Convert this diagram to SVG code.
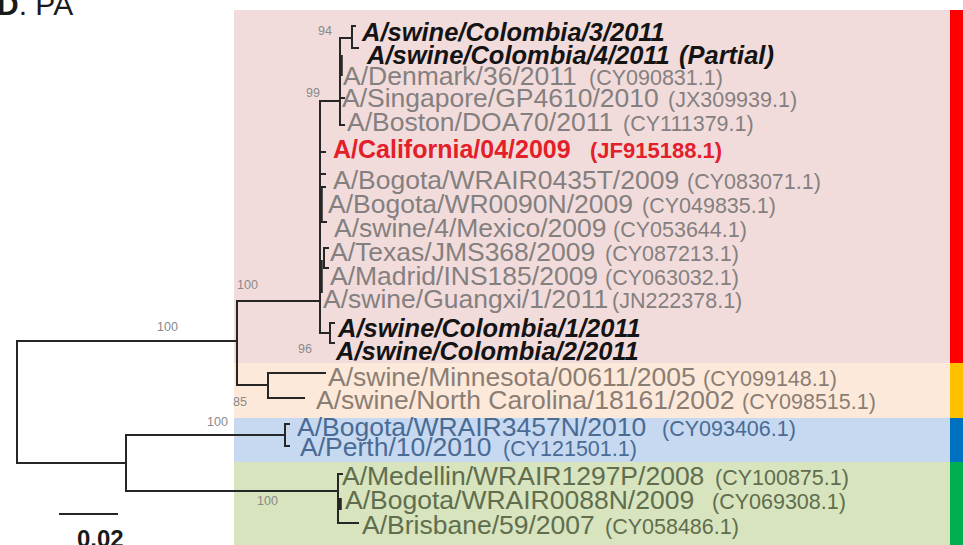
<svg xmlns="http://www.w3.org/2000/svg" width="963" height="545" viewBox="0 0 963 545">
  <style>
    text { font-family: "Liberation Sans", Arial, sans-serif; }
    .nm { font-size: 26.5px; }
    .acc { font-size: 21.5px; }
    .bi { font-size: 25.5px; font-weight: bold; font-style: italic; fill: #141414; }
    .ref { font-size: 25px; font-weight: bold; fill: #e3202a; }
    .refacc { font-size: 22px; }
    .bs { font-size: 12.5px; fill: #8a8a8a; }
    .pk { fill: #848080; }
    .pc { fill: #8a7d74; }
    .bl { fill: #4a6b94; }
    .gr { fill: #606d4f; }
    .br { fill: none; stroke: #262626; stroke-width: 2; stroke-linecap: square; }
    .thick { fill: none; stroke: #262626; stroke-width: 3.5; }
  </style>

  <!-- clade shading -->
  <g id="clades">
    <rect x="234" y="10" width="716" height="353" fill="#f2dcdb"/>
    <rect x="234" y="363" width="716" height="55" fill="#fde9d9"/>
    <rect x="234" y="418" width="716" height="44" fill="#c6d9f1"/>
    <rect x="234" y="462" width="716" height="83" fill="#d7e4bd"/>
    <rect x="950" y="10" width="13" height="353" fill="#ff0000"/>
    <rect x="950" y="363" width="13" height="55" fill="#ffc000"/>
    <rect x="950" y="418" width="13" height="44" fill="#0070c0"/>
    <rect x="950" y="462" width="13" height="83" fill="#00b050"/>
  </g>

  <!-- panel title -->
  <text x="-3" y="15" font-size="30" fill="#1a1a1a"><tspan font-weight="bold">D</tspan>. PA</text>

  <!-- tree branches -->
  <g id="connectors">
    <path class="br" d="M17 341 V463 M17 341 H237 M17 463 H126
      M237 301 V385 M237 301 H320 M237 385 H268
      M268 373 V398 M268 373 H325 M268 398 H304
      M126 435 V491 M126 435 H285 M126 491 H338
      M285 424 V446 M285 424 H289 M285 446 H289
      M338 474 V523 M338 474 H342 M338 523 H358
      M320 101 V333 M320 101 H340
      M340 38 V125 M340 38 H352 M340 98 H344 M340 125 H344
      M352 26 V48 M352 26 H355 M352 48 H358
      M320 152 H325 M320 174 H325
      M321 187 H325 M321 222 H326
      M324 248 V268 M324 248 H328 M324 268 H328
      M320 333 H330 M330 323 V343 M330 323 H334 M330 343 H334"/>
    <path class="thick" d="M340 498 V510 M341 55 V76 M321 187 V222 M321 260 V293"/>
    <path class="br" d="M60 514 H117" stroke-width="2.5"/>
  </g>

  <!-- bootstrap support values -->
  <g id="support">
    <text class="bs" x="318" y="35" font-size="11">94</text>
    <text class="bs" x="306" y="97" font-size="11">99</text>
    <text class="bs" x="157" y="331">100</text>
    <text class="bs" x="237" y="289">100</text>
    <text class="bs" x="233" y="406">85</text>
    <text class="bs" x="207" y="426">100</text>
    <text class="bs" x="257" y="505">100</text>
    <text class="bs" x="298" y="353" font-size="11">96</text>
  </g>

  <!-- scale bar -->
  <text id="scale" x="77" y="547" font-size="24" font-weight="bold" fill="#1a1a1a">0.02</text>

  <!-- taxa -->
  <g id="taxon-col3"><text class="bi" x="362" y="41">A/swine/Colombia/3/2011</text></g>
  <g id="taxon-col4"><text class="bi" x="367" y="64">A/swine/Colombia/4/2011<tspan x="679">(Partial)</tspan></text></g>
  <g id="taxon-denmark"><text class="nm pk" x="343" y="85">A/Denmark/36/2011<tspan class="acc" x="589">(CY090831.1)</tspan></text></g>
  <g id="taxon-singapore"><text class="nm pk" x="342" y="107">A/Singapore/GP4610/2010<tspan class="acc" x="668">(JX309939.1)</tspan></text></g>
  <g id="taxon-boston"><text class="nm pk" x="347" y="131">A/Boston/DOA70/2011<tspan class="acc" x="623">(CY111379.1)</tspan></text></g>
  <g id="taxon-california"><text class="ref" x="333" y="158">A/California/04/2009<tspan class="refacc" x="590">(JF915188.1)</tspan></text></g>
  <g id="taxon-bogota0435"><text class="nm pk" x="333" y="189">A/Bogota/WRAIR0435T/2009<tspan class="acc" x="687">(CY083071.1)</tspan></text></g>
  <g id="taxon-bogota0090"><text class="nm pk" x="328" y="213">A/Bogota/WR0090N/2009<tspan class="acc" x="642">(CY049835.1)</tspan></text></g>
  <g id="taxon-mexico"><text class="nm pk" x="334" y="237">A/swine/4/Mexico/2009<tspan class="acc" x="613">(CY053644.1)</tspan></text></g>
  <g id="taxon-texas"><text class="nm pk" x="330" y="261">A/Texas/JMS368/2009<tspan class="acc" x="605">(CY087213.1)</tspan></text></g>
  <g id="taxon-madrid"><text class="nm pk" x="330" y="285">A/Madrid/INS185/2009<tspan class="acc" x="605">(CY063032.1)</tspan></text></g>
  <g id="taxon-guangxi"><text class="nm pk" x="323" y="308">A/swine/Guangxi/1/2011<tspan class="acc" x="612">(JN222378.1)</tspan></text></g>
  <g id="taxon-col1"><text class="bi" x="338" y="337">A/swine/Colombia/1/2011</text></g>
  <g id="taxon-col2"><text class="bi" x="336" y="360">A/swine/Colombia/2/2011</text></g>
  <g id="taxon-minnesota"><text class="nm pc" x="328" y="386" font-size="26">A/swine/Minnesota/00611/2005<tspan class="acc" x="703">(CY099148.1)</tspan></text></g>
  <g id="taxon-carolina"><text class="nm pc" x="316" y="409" font-size="26">A/swine/North Carolina/18161/2002<tspan class="acc" x="742">(CY098515.1)</tspan></text></g>
  <g id="taxon-bogota3457"><text class="nm bl" x="297" y="436">A/Bogota/WRAIR3457N/2010<tspan class="acc" x="662">(CY093406.1)</tspan></text></g>
  <g id="taxon-perth"><text class="nm bl" x="300" y="456">A/Perth/10/2010<tspan class="acc" x="503">(CY121501.1)</tspan></text></g>
  <g id="taxon-medellin"><text class="nm gr" x="342" y="485">A/Medellin/WRAIR1297P/2008<tspan class="acc" x="715">(CY100875.1)</tspan></text></g>
  <g id="taxon-bogota0088"><text class="nm gr" x="345" y="509">A/Bogota/WRAIR0088N/2009<tspan class="acc" x="712">(CY069308.1)</tspan></text></g>
  <g id="taxon-brisbane"><text class="nm gr" x="362" y="534">A/Brisbane/59/2007<tspan class="acc" x="605">(CY058486.1)</tspan></text></g>
</svg>
